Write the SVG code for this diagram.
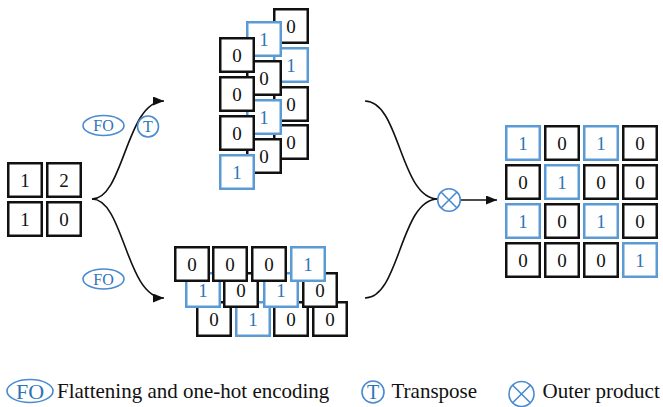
<svg xmlns="http://www.w3.org/2000/svg" width="663" height="407" viewBox="0 0 663 407">
<style>
.k{fill:#fff;stroke:#111;stroke-width:2.5}
.b{fill:#fff;stroke:#5b9bd5;stroke-width:2.5}
.tk{font-family:"Liberation Serif",serif;font-size:19px;fill:#111;text-anchor:middle}
.tb{font-family:"Liberation Serif",serif;font-size:19px;fill:#2e75b6;text-anchor:middle}
.op{fill:none;stroke:#4a8bd0;stroke-width:1.6}
.lb{font-family:"Liberation Serif",serif;fill:#2e75b6;text-anchor:middle}
.lg{font-family:"Liberation Serif",serif;font-size:21px;fill:#111}
.c{fill:none;stroke:#111;stroke-width:1.6}
</style>
<defs>
<marker id="ah" markerWidth="11" markerHeight="9" refX="11" refY="4.5" orient="auto" markerUnits="userSpaceOnUse">
<path d="M0,0 L11,4.5 L0,9 z" fill="#111"/>
</marker>
</defs>
<rect width="663" height="407" fill="#fff"/>

<g id="input-matrix">
<rect class="k" x="8.25" y="163.25" width="33.5" height="33.5"/><text class="tk" x="25" y="187">1</text>
<rect class="k" x="47.25" y="163.25" width="33.5" height="33.5"/><text class="tk" x="64" y="187">2</text>
<rect class="k" x="8.25" y="202.25" width="33.5" height="33.5"/><text class="tk" x="25" y="226">1</text>
<rect class="k" x="47.25" y="202.25" width="33.5" height="33.5"/><text class="tk" x="64" y="226">0</text>
</g>

<g id="top-stack">
<rect class="k" x="274.25" y="9.25" width="33.5" height="33.5"/><text class="tk" x="291" y="33">0</text>
<rect class="b" x="274.25" y="48.25" width="33.5" height="33.5"/><text class="tb" x="291" y="72">1</text>
<rect class="k" x="274.25" y="87.25" width="33.5" height="33.5"/><text class="tk" x="291" y="111">0</text>
<rect class="k" x="274.25" y="125.25" width="33.5" height="33.5"/><text class="tk" x="291" y="149">0</text>
<rect class="b" x="247.25" y="22.25" width="33.5" height="33.5"/><text class="tb" x="264" y="46">1</text>
<rect class="k" x="247.25" y="61.25" width="33.5" height="33.5"/><text class="tk" x="264" y="85">0</text>
<rect class="b" x="247.25" y="100.25" width="33.5" height="33.5"/><text class="tb" x="264" y="124">1</text>
<rect class="k" x="247.25" y="139.25" width="33.5" height="33.5"/><text class="tk" x="264" y="163">0</text>
<rect class="k" x="220.25" y="38.25" width="33.5" height="33.5"/><text class="tk" x="237" y="62">0</text>
<rect class="k" x="220.25" y="77.25" width="33.5" height="33.5"/><text class="tk" x="237" y="101">0</text>
<rect class="k" x="220.25" y="116.25" width="33.5" height="33.5"/><text class="tk" x="237" y="140">0</text>
<rect class="b" x="220.25" y="155.25" width="33.5" height="33.5"/><text class="tb" x="237" y="179">1</text>
</g>

<g id="bottom-stack">
<rect class="k" x="197.25" y="302.25" width="33.5" height="33.5"/><text class="tk" x="214" y="326">0</text>
<rect class="b" x="236.25" y="302.25" width="33.5" height="33.5"/><text class="tb" x="253" y="326">1</text>
<rect class="k" x="274.25" y="302.25" width="33.5" height="33.5"/><text class="tk" x="291" y="326">0</text>
<rect class="k" x="313.25" y="302.25" width="33.5" height="33.5"/><text class="tk" x="330" y="326">0</text>
<rect class="b" x="186.25" y="273.25" width="33.5" height="33.5"/><text class="tb" x="203" y="297">1</text>
<rect class="k" x="224.25" y="273.25" width="33.5" height="33.5"/><text class="tk" x="241" y="297">0</text>
<rect class="b" x="264.25" y="273.25" width="33.5" height="33.5"/><text class="tb" x="281" y="297">1</text>
<rect class="k" x="303.25" y="273.25" width="33.5" height="33.5"/><text class="tk" x="320" y="297">0</text>
<rect class="k" x="175.25" y="247.25" width="33.5" height="33.5"/><text class="tk" x="192" y="271">0</text>
<rect class="k" x="213.25" y="247.25" width="33.5" height="33.5"/><text class="tk" x="230" y="271">0</text>
<rect class="k" x="252.25" y="247.25" width="33.5" height="33.5"/><text class="tk" x="269" y="271">0</text>
<rect class="b" x="291.25" y="247.25" width="33.5" height="33.5"/><text class="tb" x="308" y="271">1</text>
</g>

<g id="output-matrix">
<rect class="b" x="506.25" y="126.25" width="33.5" height="33.5"/><text class="tb" x="523" y="150">1</text>
<rect class="k" x="545.25" y="126.25" width="33.5" height="33.5"/><text class="tk" x="562" y="150">0</text>
<rect class="b" x="584.25" y="126.25" width="33.5" height="33.5"/><text class="tb" x="601" y="150">1</text>
<rect class="k" x="623.25" y="126.25" width="33.5" height="33.5"/><text class="tk" x="640" y="150">0</text>
<rect class="k" x="506.25" y="165.25" width="33.5" height="33.5"/><text class="tk" x="523" y="189">0</text>
<rect class="b" x="545.25" y="165.25" width="33.5" height="33.5"/><text class="tb" x="562" y="189">1</text>
<rect class="k" x="584.25" y="165.25" width="33.5" height="33.5"/><text class="tk" x="601" y="189">0</text>
<rect class="k" x="623.25" y="165.25" width="33.5" height="33.5"/><text class="tk" x="640" y="189">0</text>
<rect class="b" x="506.25" y="204.25" width="33.5" height="33.5"/><text class="tb" x="523" y="228">1</text>
<rect class="k" x="545.25" y="204.25" width="33.5" height="33.5"/><text class="tk" x="562" y="228">0</text>
<rect class="b" x="584.25" y="204.25" width="33.5" height="33.5"/><text class="tb" x="601" y="228">1</text>
<rect class="k" x="623.25" y="204.25" width="33.5" height="33.5"/><text class="tk" x="640" y="228">0</text>
<rect class="k" x="506.25" y="243.25" width="33.5" height="33.5"/><text class="tk" x="523" y="267">0</text>
<rect class="k" x="545.25" y="243.25" width="33.5" height="33.5"/><text class="tk" x="562" y="267">0</text>
<rect class="k" x="584.25" y="243.25" width="33.5" height="33.5"/><text class="tk" x="601" y="267">0</text>
<rect class="b" x="623.25" y="243.25" width="33.5" height="33.5"/><text class="tb" x="640" y="267">1</text>
</g>

<g id="connectors">
<path class="c" d="M92,199 C124,199 126,101 164,101" marker-end="url(#ah)"/>
<path class="c" d="M92,199 C124,199 126,298 164,298" marker-end="url(#ah)"/>
<path class="c" d="M365,101 C400,101 400,199 438,199"/>
<path class="c" d="M365,298 C400,298 400,199 438,199"/>
<path class="c" d="M460.5,200 L497,200" marker-end="url(#ah)"/>
</g>

<g id="op-fo-top">
<ellipse class="op" cx="103.5" cy="125.5" rx="20.5" ry="10"/>
<text class="lb" x="103.5" y="131" font-size="16">FO</text>
</g>
<g id="op-t">
<circle class="op" cx="148" cy="126.5" r="10.5"/>
<text class="lb" x="148" y="132" font-size="16">T</text>
</g>
<g id="op-fo-bottom">
<ellipse class="op" cx="103.5" cy="279" rx="20.5" ry="10"/>
<text class="lb" x="103.5" y="284.5" font-size="16">FO</text>
</g>
<g id="op-outer">
<circle class="op" cx="449" cy="200" r="11.3"/>
<path class="op" d="M441,192 L457,208 M457,192 L441,208"/>
</g>

<g id="legend">
<ellipse class="op" cx="30" cy="391" rx="23" ry="11.5"/>
<text class="lb" x="30" y="398.5" font-size="22">FO</text>
<text class="lg" x="57" y="397.5">Flattening and one-hot encoding</text>
<circle class="op" cx="373" cy="392" r="11"/>
<text class="lb" x="373" y="399" font-size="20">T</text>
<text class="lg" x="391.5" y="397.5">Transpose</text>
<circle class="op" cx="521.5" cy="394" r="12.5"/>
<path class="op" d="M512.7,385.2 L530.3,402.8 M530.3,385.2 L512.7,402.8"/>
<text class="lg" x="542.5" y="397.5">Outer product</text>
</g>
</svg>
